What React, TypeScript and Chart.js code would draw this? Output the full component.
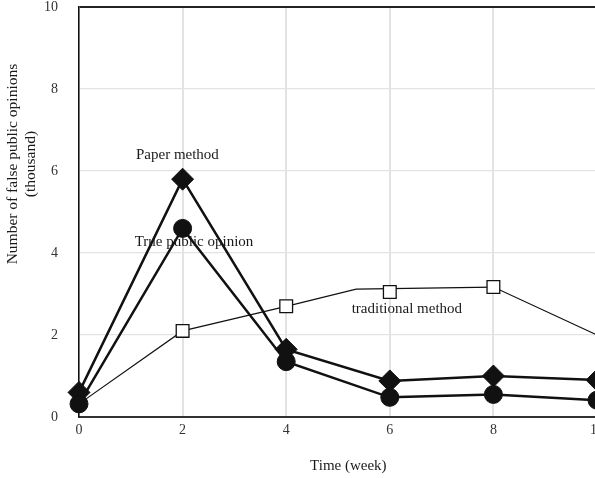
import React, { useEffect, useRef } from 'react';
import { Chart, registerables } from 'chart.js';

Chart.register(...registerables);

// ---- data ----
const weeks = [0, 2, 4, 6, 8, 10];
const paperMethod = [0.6, 5.8, 1.65, 0.88, 1.0, 0.9];
const truePublicOpinion = [0.32, 4.6, 1.35, 0.48, 0.55, 0.41];
const traditionalLineWeeks = [0, 2, 4, 5.35, 8, 10];
const traditionalLineValues = [0.32, 2.1, 2.7, 3.12, 3.17, 2.0];
const traditionalMarkerWeeks = [2, 4, 6, 8];
const traditionalMarkerValues = [2.1, 2.7, 3.05, 3.17];
const xTickValues = [0, 2, 4, 6, 8, 10];
const yTickValues = [0, 2, 4, 6, 8, 10];
const seriesNames = ['Paper method', 'True public opinion', 'traditional method'];
const xTitle = 'Time (week)';
const yTitleLines = ['Number of false public opinions', '(thousand)'];

// label anchors in data coordinates
const labelAnchors = [
  { text: seriesNames[0], x: 1.9, y: 6.39 },
  { text: seriesNames[1], x: 2.22, y: 4.27 },
  { text: seriesNames[2], x: 6.33, y: 2.63 },
];

const FONT = '"Liberation Serif", "Times New Roman", serif';

const pts = (xs: number[], ys: number[]) => xs.map((x, i) => ({ x, y: ys[i] }));

const textPlugin = {
  id: 'textPlugin',
  afterDatasetsDraw(chart: any) {
    const { ctx, chartArea } = chart;
    const xs = chart.scales.x;
    const ys = chart.scales.y;
    ctx.save();
    ctx.fillStyle = '#1a1a1a';
    ctx.textAlign = 'center';
    ctx.textBaseline = 'middle';
    ctx.font = `15px ${FONT}`;
    labelAnchors.forEach((a) => {
      ctx.fillText(a.text, xs.getPixelForValue(a.x), ys.getPixelForValue(a.y));
    });
    ctx.fillText(xTitle, xs.getPixelForValue(5.2), chartArea.bottom + 49);
    ctx.font = `15.5px ${FONT}`;
    const cy = ys.getPixelForValue(6.17);
    ctx.translate(chartArea.left - 66, cy);
    ctx.rotate(-Math.PI / 2);
    ctx.fillText(yTitleLines[0], 0, 0);
    ctx.fillText(yTitleLines[1], 0, 18);
    ctx.restore();
  },
};

export default function App() {
  const ref = useRef<HTMLCanvasElement>(null);
  useEffect(() => {
    if (!ref.current) return;
    const chart = new Chart(ref.current, {
      type: 'scatter',
      data: {
        datasets: [
          {
            label: seriesNames[0],
            data: pts(weeks, paperMethod),
            showLine: true,
            borderColor: '#111',
            borderWidth: 2.5,
            backgroundColor: '#111',
            pointStyle: 'rectRot',
            pointRadius: 11,
            pointBorderWidth: 1,
            pointBorderColor: '#111',
            pointBackgroundColor: '#111',
            tension: 0,
            clip: false as any,
            order: 1,
          },
          {
            label: seriesNames[1],
            data: pts(weeks, truePublicOpinion),
            showLine: true,
            borderColor: '#111',
            borderWidth: 2.5,
            backgroundColor: '#111',
            pointStyle: 'circle',
            pointRadius: 9,
            pointBorderWidth: 1,
            pointBorderColor: '#111',
            pointBackgroundColor: '#111',
            tension: 0,
            clip: false as any,
            order: 0,
          },
          {
            label: seriesNames[2],
            data: pts(traditionalLineWeeks, traditionalLineValues),
            showLine: true,
            borderColor: '#111',
            borderWidth: 1.2,
            pointRadius: 0,
            tension: 0,
            clip: false as any,
            order: 3,
          },
          {
            label: seriesNames[2] + ' markers',
            data: pts(traditionalMarkerWeeks, traditionalMarkerValues),
            showLine: false,
            pointStyle: 'rect',
            pointRadius: 9,
            pointBorderWidth: 1.3,
            pointBorderColor: '#111',
            pointBackgroundColor: '#fff',
            clip: false as any,
            order: 2,
          },
        ],
      },
      options: {
        animation: false,
        responsive: false,
        events: [],
        layout: { autoPadding: false, padding: { top: 7, right: 23, bottom: 0, left: 0 } },
        plugins: { legend: { display: false }, tooltip: { enabled: false } },
        scales: {
          x: {
            type: 'linear',
            min: 0,
            max: 10,
            afterBuildTicks: (s: any) => {
              s.ticks = xTickValues.map((v) => ({ value: v }));
            },
            afterFit: (s: any) => {
              s.height = 61;
              s.paddingLeft = 0;
              s.paddingRight = 0;
            },
            grid: {
              drawTicks: false,
              lineWidth: 2,
              color: (c: any) => (c.tick && c.tick.value === 0 ? 'rgba(0,0,0,0)' : '#e3e3e3'),
            },
            border: { color: '#333', width: 2 },
            ticks: {
              padding: 6,
              color: '#333',
              font: { family: FONT, size: 14, lineHeight: 1 },
              maxRotation: 0,
            },
          },
          y: {
            type: 'linear',
            min: 0,
            max: 10,
            afterBuildTicks: (s: any) => {
              s.ticks = yTickValues.map((v) => ({ value: v }));
            },
            afterFit: (s: any) => {
              s.width = 79;
              s.paddingTop = 0;
              s.paddingBottom = 0;
            },
            grid: {
              drawTicks: true,
              tickLength: 21,
              tickColor: 'rgba(0,0,0,0)',
              lineWidth: (c: any) => (c.tick && c.tick.value === 10 ? 2 : 1.2),
              color: (c: any) =>
                c.tick && c.tick.value === 10
                  ? '#222'
                  : c.tick && c.tick.value === 0
                  ? 'rgba(0,0,0,0)'
                  : '#e3e3e3',
            },
            border: { color: '#111', width: 1.6 },
            ticks: {
              padding: 0,
              color: '#333',
              font: { family: FONT, size: 14, lineHeight: 1 },
            },
          },
        },
      },
      plugins: [textPlugin],
    } as any);
    return () => chart.destroy();
  }, []);
  return (
    <div style={{ position: 'fixed', left: 0, top: 0, width: 595, height: 478, overflow: 'hidden', background: '#fff' }}>
      <canvas ref={ref} width={620} height={478} style={{ display: 'block' }} />
    </div>
  );
}
